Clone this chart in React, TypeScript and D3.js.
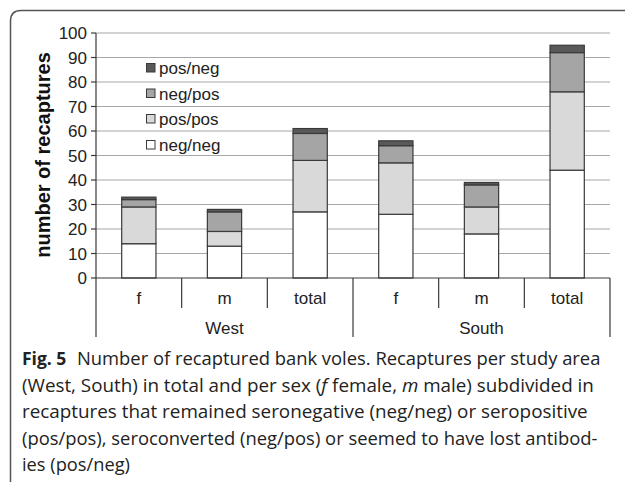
import React from "react";
import * as d3 from "d3";

const categories = ["f", "m", "total", "f", "m", "total"];
const groups = ["West", "South"];
const seriesKeys = ["neg/neg", "pos/pos", "neg/pos", "pos/neg"];
const negneg = [14, 13, 27, 26, 18, 44];
const pospos = [15, 6, 21, 21, 11, 32];
const negpos = [3, 8, 11, 7, 9, 16];
const posneg = [1, 1, 2, 2, 1, 3];
const yTicks = [0, 10, 20, 30, 40, 50, 60, 70, 80, 90, 100];
const colors = ["#ffffff", "#d9d9d9", "#a5a5a5", "#595959"];

const line2Parts = [
  { t: "(West, South) in total and per sex (", it: false },
  { t: "f", it: true },
  { t: " female, ", it: false },
  { t: "m", it: true },
  { t: " male) subdivided in", it: false },
];
const captionLines = [
  "recaptures that remained seronegative (neg/neg) or seropositive",
  "(pos/pos), seroconverted (neg/pos) or seemed to have lost antibod-",
  "ies (pos/neg)",
];

function measure(text: string, font: string): number {
  if (typeof document === "undefined") return text.length * 9;
  const c = document.createElement("canvas");
  const ctx = c.getContext("2d");
  if (!ctx) return text.length * 9;
  ctx.font = font;
  return ctx.measureText(text).width;
}

export default function App() {
  const W = 627, H = 482;
  const left = 96, right = 610, top = 33, bottom = 278;
  const y = d3.scaleLinear().domain([0, 100]).range([bottom, top]);
  const idx = categories.map((_, i) => i);
  const x = d3.scaleBand<number>().domain(idx).range([left, right]).padding(0);
  const bw = x.bandwidth() * 0.4;
  const rows = idx.map((i) => ({
    i,
    "neg/neg": negneg[i],
    "pos/pos": pospos[i],
    "neg/pos": negpos[i],
    "pos/neg": posneg[i],
  }));
  const stack = d3.stack<any>().keys(seriesKeys)(rows);
  const font = "'Liberation Sans', Arial, sans-serif";
  const capFont = "'Open Sans', 'Noto Sans', sans-serif";
  const dark = "#3a3a3a";
  const legendOrder = [3, 2, 1, 0];
  const legendY = [68, 93.5, 119, 145];
  const groupX = [0, 3, 6].map((k) => (k < 6 ? x(k)! : right));

  const base = 19;
  const fitSize = (parts: { t: string; it: boolean }[], target: number) => {
    const w = parts
      .map((p) => measure(p.t, `${p.it ? "italic " : ""}${base}px 'Open Sans'`))
      .reduce((a, b) => a + b, 0);
    const s = (base * target) / w;
    return Math.max(16, Math.min(21, s));
  };
  const fsNum = fitSize([{ t: "Number of recaptured bank voles. Recaptures per study area", it: false }], 524);
  const fs2 = fitSize(line2Parts, 572);
  const fs3 = fitSize([{ t: captionLines[0], it: false }], 566);
  const fs4 = fitSize([{ t: captionLines[1], it: false }], 576);
  const fs5 = fitSize([{ t: captionLines[2], it: false }], 108);

  return (
    <svg width={W} height={H} style={{ position: "absolute", left: 0, top: 0 }}>
      <rect x={0} y={0} width={W} height={H} fill="#fff" />
      <path d="M10.5,482 L10.5,21 Q10.5,10.5 21,10.5 L625,10.5" fill="none" stroke="#555" strokeWidth={1.5} />
      {yTicks.filter((t) => t > 0).map((t) => (
        <line key={"g" + t} x1={left} x2={right} y1={y(t)} y2={y(t)} stroke="#a8a8a8" strokeWidth={1.2} />
      ))}
      {stack.map((s, si) =>
        s.map((d, i) => (
          <rect
            key={si + "-" + i}
            x={x(i)! + (x.bandwidth() - bw) / 2}
            y={y(d[1])}
            width={bw}
            height={y(d[0]) - y(d[1])}
            fill={colors[si]}
            stroke={dark}
            strokeWidth={1.2}
          />
        ))
      )}
      <line x1={left} x2={left} y1={top} y2={337} stroke={dark} strokeWidth={1.2} />
      {yTicks.map((t) => (
        <g key={"t" + t}>
          <line x1={left - 5} x2={left} y1={y(t)} y2={y(t)} stroke={dark} strokeWidth={1.2} />
          <text x={left - 9} y={y(t)} dy="0.36em" textAnchor="end" fontFamily={font} fontSize={17} fill="#222">
            {t}
          </text>
        </g>
      ))}
      <text
        transform={`translate(50,155) rotate(-90)`}
        textAnchor="middle"
        fontFamily={font}
        fontWeight="bold"
        fontSize={20}
        fill="#111"
      >
        number of recaptures
      </text>
      {legendOrder.map((si, k) => (
        <g key={"l" + si}>
          <rect x={146.5} y={legendY[k] - 4.5} width={8.5} height={8.5} fill={colors[si]} stroke={dark} strokeWidth={1} />
          <text x={159} y={legendY[k]} dy="0.36em" fontFamily={font} fontSize={17} fill="#222">
            {seriesKeys[si]}
          </text>
        </g>
      ))}
      <line x1={left} x2={right} y1={bottom} y2={bottom} stroke={dark} strokeWidth={1.2} />
      {idx.slice(1).map((i) =>
        i % 3 !== 0 ? (
          <line key={"s" + i} x1={x(i)!} x2={x(i)!} y1={bottom} y2={308} stroke={dark} strokeWidth={1.2} />
        ) : null
      )}
      {groupX.slice(1).map((gx, k) => (
        <line key={"gs" + k} x1={gx} x2={gx} y1={bottom} y2={337} stroke={dark} strokeWidth={1.2} />
      ))}
      {categories.map((c, i) => (
        <text key={"c" + i} x={x(i)! + x.bandwidth() / 2} y={304} textAnchor="middle" fontFamily={font} fontSize={17} fill="#222">
          {c}
        </text>
      ))}
      {groups.map((g, k) => (
        <text key={"gr" + k} x={(groupX[k] + groupX[k + 1]) / 2} y={334} textAnchor="middle" fontFamily={font} fontSize={17} fill="#222">
          {g}
        </text>
      ))}
      <g fontFamily={capFont} fill="#222">
        <text x={22} y={365} fontWeight="bold" fontSize={17.5}>Fig. 5</text>
        <text x={77} y={365} fontSize={fsNum}>
          Number of recaptured bank voles. Recaptures per study area
        </text>
        <text x={22} y={391.5} fontSize={fs2} style={{ whiteSpace: "pre" }}>
          {line2Parts.map((p, i) => (
            <tspan key={"p" + i} fontStyle={p.it ? "italic" : "normal"}>
              {p.t}
            </tspan>
          ))}
        </text>
        <text x={22} y={418} fontSize={fs3}>{captionLines[0]}</text>
        <text x={22} y={444.5} fontSize={fs4}>{captionLines[1]}</text>
        <text x={22} y={471} fontSize={fs5}>{captionLines[2]}</text>
      </g>
    </svg>
  );
}
